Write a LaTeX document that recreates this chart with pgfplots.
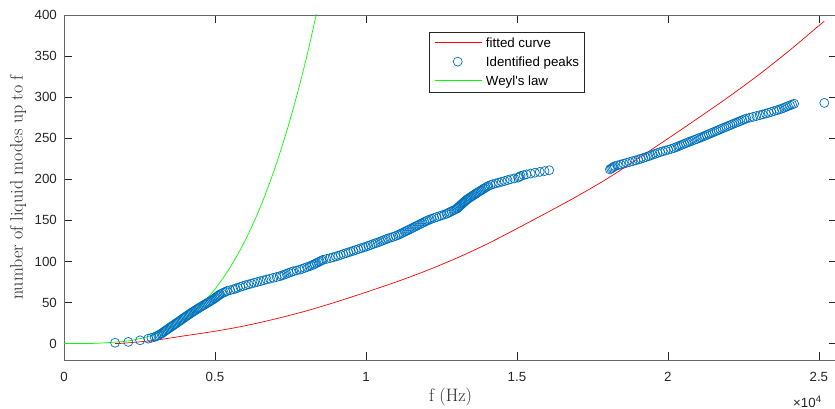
\documentclass[border=0pt]{standalone}
\usepackage{pgfplots}
\pgfplotsset{compat=1.18}
\usepackage{fontspec}
\newfontfamily\arial{Liberation Sans}
\definecolor{mblue}{rgb}{0,0.447,0.741}
\definecolor{mred}{rgb}{1,0,0}
\definecolor{mgreen}{rgb}{0,1,0}
\newcommand{\linesample}[1]{\tikz[baseline=-4.5pt]{\path (0pt,-5pt) rectangle (47pt,5pt); \draw[draw=#1, line width=0.7pt] (0pt,0pt) -- (47pt,0pt);}}
\newcommand{\marksample}[1]{\tikz[baseline=-4.5pt]{\path (0pt,-5pt) rectangle (47pt,5pt); \draw[draw=#1, line width=0.7pt] (23.5pt,0pt) circle (4.5pt);}}
\begin{document}
\begin{tikzpicture}
\useasboundingbox (-64pt,-49pt) rectangle (771pt,360pt);
\begin{axis}[name=ax, at={(0,0)}, anchor=south west,
  scale only axis, width=773pt, height=345pt,
  xmin=0, xmax=25600, ymin=-20, ymax=400,
  scaled x ticks=false, scaled y ticks=false,
  xtick={0,5000,10000,15000,20000,25000},
  xticklabels={0,0.5,1,1.5,2,2.5},
  ytick={0,50,100,150,200,250,300,350,400},
  /pgf/number format/assume math mode=true,
  tick align=inside, major tick length=8pt,
  axis line style={black!60, line width=0.6pt},
  major tick style={black!85, line width=0.5pt},
  tick label style={font=\arial\fontsize{13.3}{16}\selectfont, text=black!85},
  xticklabel style={anchor=center, yshift=-17pt},
  yticklabel style={anchor=east, inner sep=0pt, xshift=-7pt},
  every axis x label/.style={at={(axis description cs:0.5,0)}, anchor=center, yshift=-37pt, font=\fontsize{18}{20}\selectfont, text=black!85},
  every axis y label/.style={at={(axis description cs:0,0.5)}, rotate=90, anchor=center, yshift=46pt, font=\fontsize{18}{20}\selectfont, text=black!85},
  xlabel={f (Hz)},
  ylabel={number of liquid modes up to f},
  peak/.style={forget plot, only marks, mark=o, mark size=4.5pt, mark options={line width=0.7pt, draw=mblue}, mblue},
]
% identified peaks (even counts)
\addplot[peak] table {
x y
1690 1
2130 2
2520 4
2790 6
3000 8
3120 10
3219 12
3296 14
3373 16
3450 18
3530 20
3610 22
3690 24
3769 26
3846 28
3923 30
4000 32
4080 34
4160 36
4240 38
4324 40
4412 42
4500 44
4590 46
4680 48
4770 50
4860 52
4950 54
5023 56
5097 58
5170 60
5285 62
5400 64
5610 66
5757 68
5923 70
6108 72
6302 74
6506 76
6710 78
6930 80
7150 82
7297 84
7443 86
7590 88
7810 90
7966 92
8122 94
8254 96
8363 98
8471 100
8580 102
8807 104
9003 106
9166 108
9334 110
9500 112
9667 114
9833 116
10000 118
10153 120
10307 122
10460 124
10596 126
10732 128
10900 130
11056 132
11167 134
11278 136
11389 138
11500 140
11609 142
11718 144
11827 146
11936 148
12045 150
12181 152
12344 154
12507 156
12670 158
12780 160
12890 162
13000 164
13060 166
13120 168
13180 170
13240 172
13300 174
13371 176
13453 178
13536 180
13618 182
13700 184
13789 186
13878 188
13967 190
14056 192
14200 194
14400 196
14595 198
14785 200
15040 202
15120 204
15315 206
15595 208
15915 210
16070 211
18080 212
18160 214
18240 216
18435 218
18630 220
18825 222
19020 224
19185 226
19350 228
19502 230
19654 232
19824 234
20012 236
20200 238
20333 240
20465 242
20598 244
20730 246
20878 248
21026 250
21164 252
21292 254
21420 256
21549 258
21678 260
21807 262
21936 264
22067 266
22200 268
22333 270
22467 272
22600 274
22820 276
23040 278
23242 280
23425 282
23608 284
23769 286
23906 288
24043 290
24180 292
25180 293
};
% identified peaks (odd counts)
\addplot[peak] table {
x y
2895 7
3060 9
3170 11
3258 13
3335 15
3412 17
3490 19
3570 21
3650 23
3730 25
3808 27
3885 29
3962 31
4040 33
4120 35
4200 37
4282 39
4368 41
4456 43
4545 45
4635 47
4725 49
4815 51
4905 53
4987 55
5060 57
5134 59
5228 61
5343 63
5505 65
5684 67
5840 69
6016 71
6205 73
6404 75
6608 77
6820 79
7040 81
7224 83
7370 85
7517 87
7700 89
7888 91
8044 93
8188 95
8309 97
8417 99
8526 101
8694 103
8905 105
9085 107
9250 109
9417 111
9584 113
9750 115
9917 117
10077 119
10230 121
10384 123
10528 125
10664 127
10816 129
10978 131
11112 133
11222 135
11334 137
11445 139
11555 141
11664 143
11772 145
11882 147
11990 149
12113 151
12262 153
12426 155
12588 157
12725 159
12835 161
12945 163
13030 165
13090 167
13150 169
13210 171
13270 173
13336 175
13412 177
13494 179
13577 181
13659 183
13744 185
13834 187
13922 189
14012 191
14128 193
14300 195
14498 197
14690 199
14912 201
15080 203
15218 205
15455 207
15755 209
18120 213
18200 215
18338 217
18532 219
18728 221
18922 223
19102 225
19268 227
19426 229
19578 231
19739 233
19918 235
20106 237
20266 239
20399 241
20532 243
20664 245
20804 247
20952 249
21095 251
21228 253
21356 255
21484 257
21614 259
21742 261
21872 263
22002 265
22134 267
22266 269
22400 271
22534 273
22710 275
22930 277
23141 279
23334 281
23516 283
23688 285
23838 287
23974 289
24112 291
};
% fitted curve
\addplot[forget plot, mred, line width=0.7pt, smooth] coordinates {
(1690,0) (2000,0.5) (3000,4) (4000,9.5) (5000,15) (6000,21.7) (7000,30)
(8000,39.5) (9000,50.5) (10000,62.5) (11000,75) (12000,88.7) (13000,104)
(14000,121) (15000,140) (16000,159.5) (17000,179.5) (18000,201) (19000,225)
(20000,249.5) (21000,274.5) (22000,300) (23000,327) (24000,356) (25000,387) (25180,392.5)
};
% Weyl's law
\addplot[forget plot, mgreen, line width=0.7pt, smooth] coordinates {
(0,0) (1000,0.24) (2000,2.7) (2500,5.9) (3000,11.1) (3500,19.0) (4000,30.4)
(4500,45.8) (5000,66.3) (5500,92.6) (6000,125.5) (6500,166) (7000,215.3)
(7500,274) (8000,343.4) (8500,424.7)
};
\end{axis}
\node[anchor=north west, draw=black!85, line width=0.5pt, fill=white, inner xsep=5pt, inner ysep=1.5pt,
  font=\arial\fontsize{13.3}{15}\selectfont, text=black]
  at ([xshift=365pt, yshift=-17pt]ax.north west)
  {\renewcommand{\arraystretch}{1.27}\begin{tabular}{@{}l@{\hspace{4pt}}l@{}}
   \linesample{mred} & fitted curve\\
   \marksample{mblue} & Identified peaks\\
   \linesample{mgreen} & Weyl's law
   \end{tabular}};
\node[anchor=west, inner sep=0pt, font=\arial\fontsize{13.3}{16}\selectfont, text=black!85] at ([xshift=729pt, yshift=-42pt]ax.south west) {×10\raisebox{5pt}{\fontsize{9.5}{10}\selectfont 4}};
\end{tikzpicture}
\end{document}
